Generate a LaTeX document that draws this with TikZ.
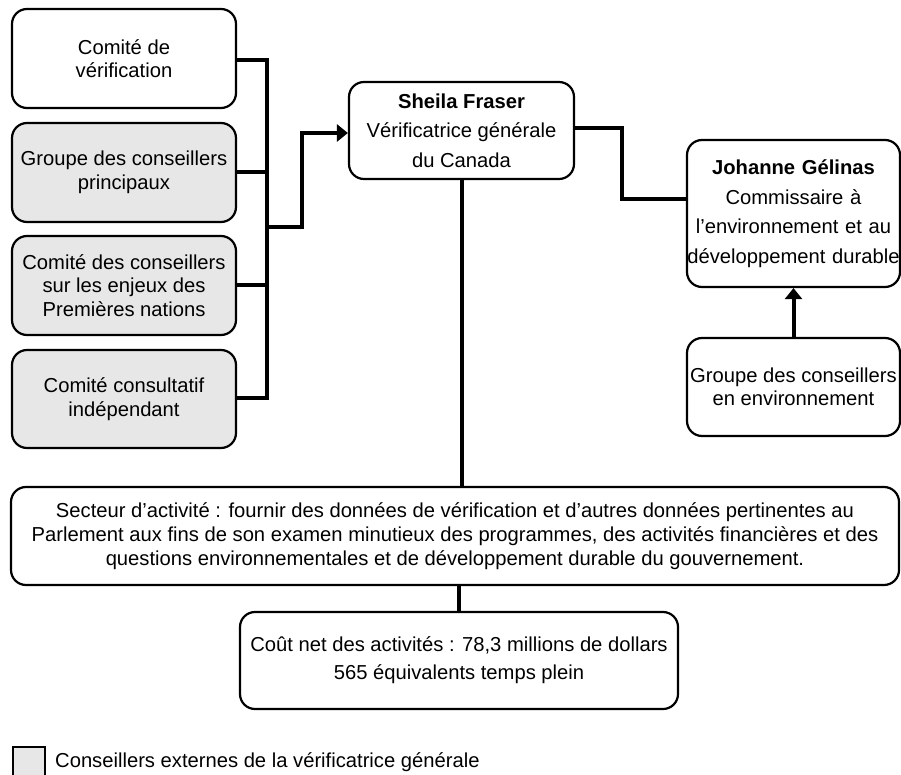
\documentclass[tikz,border=0pt]{standalone}
\usepackage{fontspec}
\setmainfont{Liberation Sans}
\usetikzlibrary{arrows.meta,calc}
\definecolor{boxgrey}{HTML}{E6E7E6}
\begin{document}
\begin{tikzpicture}[x=1pt,y=-1pt,
  box/.style={draw=black, line width=2.2pt, rounded corners=15pt, align=center, inner sep=0pt},
  small/.style={font=\fontsize{20.2}{23.5}\selectfont},
  big/.style={font=\fontsize{20.2}{29.5}\selectfont},
  grey/.style={fill=boxgrey},
  conn/.style={line width=4pt},
  tip/.style={-{Triangle[length=11pt,width=17pt]}}]
\useasboundingbox (0,0) rectangle (901,775);
% left column
\node[box, small, minimum width=224pt, minimum height=99pt] (c1) at (124,58.5) {Comité de\\vérification};
\node[box, small, grey, minimum width=224pt, minimum height=99pt] (c2) at (124,172.5) {Groupe des conseillers\\principaux};
\node[box, small, grey, minimum width=224pt, minimum height=99pt] (c3) at (124,285.5) {Comité des conseillers\\sur les enjeux des\\Premières nations};
\node[box, small, grey, minimum width=224pt, minimum height=98pt] (c4) at (124,399) {Comité consultatif\\indépendant};
% centre
\node[box, big, minimum width=225pt, minimum height=97pt] (sf) at (461.5,130.5) {\textbf{Sheila Fraser}\\Vérificatrice générale\\du Canada};
% right
\node[box, big, minimum width=213pt, minimum height=147pt, text width=213pt] (jg) at (793.5,213.5) {\textbf{Johanne Gélinas}\\Commissaire à\\l’environnement et au\\développement durable\par\vspace{18pt}};
\node[box, small, minimum width=213pt, minimum height=98pt] (ge) at (793.5,387) {Groupe des conseillers\\en environnement};
% bottom
\node[box, font=\fontsize{20.2}{24}\selectfont, minimum width=888pt, minimum height=98pt] (sa) at (455,536) {Secteur d’activité : fournir des données de vérification et d’autres données pertinentes au\\Parlement aux fins de son examen minutieux des programmes, des activités financières et des\\questions environnementales et de développement durable du gouvernement.};
\node[box, font=\fontsize{20.2}{28}\selectfont, minimum width=438pt, minimum height=97pt] (cn) at (459,660.5) {Coût net des activités : 78,3 millions de dollars\\565 équivalents temps plein};
% legend
\node[draw=black, line width=2pt, fill=boxgrey, minimum width=32pt, minimum height=32pt, inner sep=0pt] (lg) at (29,763) {};
\node[anchor=west, inner sep=0pt, font=\fontsize{20.2}{23.5}\selectfont] (lt) at (55,762) {Conseillers externes de la vérificatrice générale};
% connectors
\coordinate (bt) at (267,60);
\coordinate (bb) at (267,398);
\coordinate (bm) at (267,227);
\coordinate (k1) at (302,227);
\coordinate (k2) at (302,133);
\draw[conn] (c1.east |- bt) -- (bt) -- (bb) -- (c4.east |- bb);
\draw[conn] (c2.east) -- (c2.east -| bt);
\draw[conn] (c3.east) -- (c3.east -| bt);
\draw[conn, tip] (bm) -- (k1) -- (k2) -- (sf.west |- k2);
\coordinate (s1) at (622,128);
\coordinate (s2) at (622,199);
\draw[conn] (sf.east |- s1) -- (s1) -- (s2) -- (jg.west |- s2);
\draw[conn, tip] (ge.north) -- (jg.south);
\draw[conn] (sf.south) -- (sf.south |- sa.north);
\draw[conn] (cn.north |- sa.south) -- (cn.north);
\end{tikzpicture}
\end{document}
